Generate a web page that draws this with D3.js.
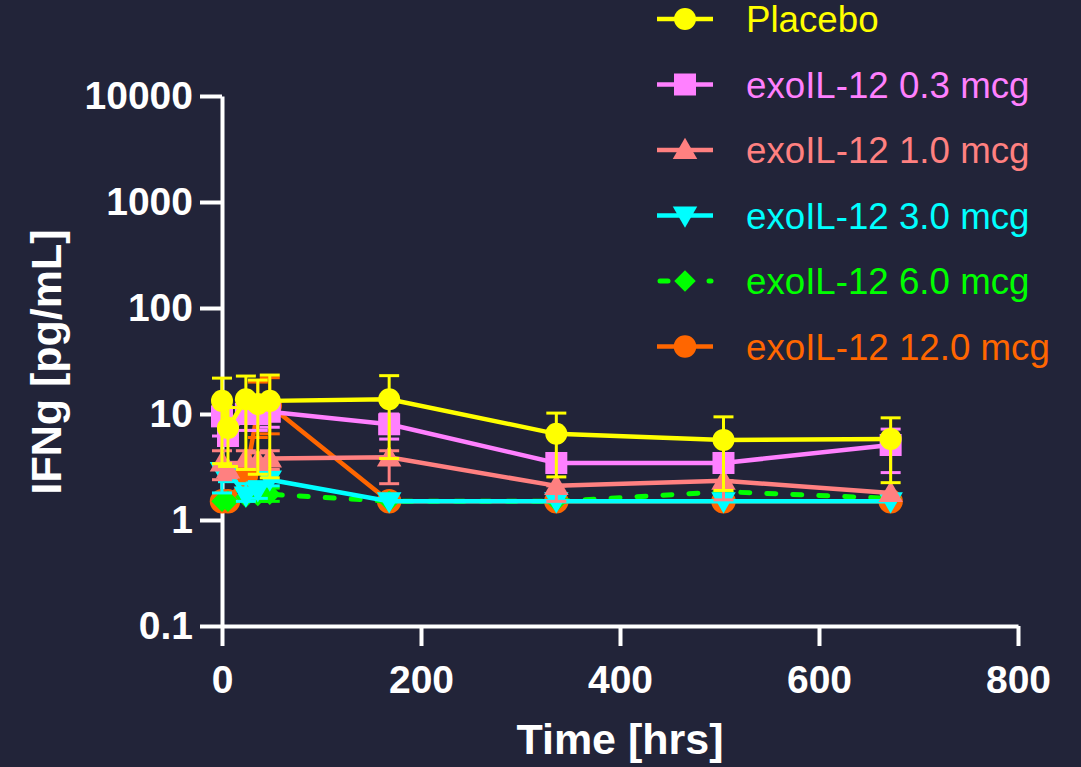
<!DOCTYPE html>
<html>
<head>
<meta charset="utf-8">
<script src="https://d3js.org/d3.v7.min.js"></script>
<style>
  body { margin: 0; background: #222439; }
  svg { display: block; font-family: "Liberation Sans", Arial, sans-serif; }
</style>
</head>
<body>
<svg id="chart" width="1081" height="767"></svg>
<script>
// sampling times (hrs)
var times = [0, 6, 24, 36, 48, 168, 336, 504, 672];

// series names + colours
var names = ["Placebo", "exoIL-12 0.3 mcg", "exoIL-12 1.0 mcg", "exoIL-12 3.0 mcg", "exoIL-12 6.0 mcg", "exoIL-12 12.0 mcg"];
var colors = ["#ffff00", "#ff80ff", "#ff8080", "#00ffff", "#00ff00", "#ff6600"];
var symbols = ["circle", "square", "triangle", "triangleDown", "diamond", "bigcircle"];

// mean IFNg values (pg/mL)
var placebo = [13.3, 7.4, 13.8, 12.4, 13.3, 13.8, 6.5, 5.7, 5.8];
var dose03  = [9.5, 6.2, 10.0, 10.0, 10.5, 8.0, 3.45, 3.45, 5.1];
var dose1   = [3.5, 3.0, 3.8, 3.6, 3.8, 3.9, 2.1, 2.35, 1.8];
var dose3   = [2.9, 2.9, 1.7, 1.9, 2.4, 1.5, 1.5, 1.5, 1.5];
var dose6   = [1.5, 1.5, 1.65, 1.7, 1.75, 1.5, 1.5, 1.85, 1.6];
var dose12  = [1.5, 1.5, 2.6, 11.0, 12.0, 1.5, 1.5, 1.5, 1.5];

// error bar ends (upper / lower)
var placeboHi = [21.8, 11.5, 22.8, 20.9, 23.3, 23.0, 10.2, 9.4, 9.2];
var placeboLo = [3.4, 3.2, 3.0, 2.7, 2.5, 3.8, 2.55, 1.9, 2.25];
var dose03Hi  = [12.0, 7.5, 13.0, 13.0, 14.0, 10.0, 3.45, 3.45, 7.2];
var dose03Lo  = [6.2, 5.2, 7.0, 7.0, 7.5, 5.8, 3.45, 3.45, 2.8];
var dose1Hi   = [4.5, 3.5, 4.5, 4.3, 4.5, 4.5, 2.1, 2.35, 1.8];
var dose1Lo   = [2.4, 2.5, 3.0, 3.0, 3.0, 2.2, 1.5, 1.55, 1.8];
var dose3Hi   = [3.3, 3.3, 2.2, 2.3, 2.9, 1.5, 1.5, 1.5, 1.5];
var dose3Lo   = [1.8, 2.3, 1.5, 1.6, 2.1, 1.5, 1.5, 1.5, 1.5];
var dose6Hi   = [1.5, 1.5, 1.9, 2.0, 2.0, 1.5, 1.5, 1.85, 1.6];
var dose6Lo   = [1.5, 1.5, 1.5, 1.5, 1.5, 1.5, 1.5, 1.85, 1.6];
var dose12Hi  = [1.5, 1.5, 3.0, 20.0, 22.0, 1.5, 1.5, 1.5, 1.5];
var dose12Lo  = [1.5, 1.5, 2.2, 6.0, 6.5, 1.5, 1.5, 1.5, 1.5];

var xTicks = [0, 200, 400, 600, 800];
var yTicks = [0.1, 1, 10, 100, 1000, 10000];

var means = [placebo, dose03, dose1, dose3, dose6, dose12];
var his = [placeboHi, dose03Hi, dose1Hi, dose3Hi, dose6Hi, dose12Hi];
var los = [placeboLo, dose03Lo, dose1Lo, dose3Lo, dose6Lo, dose12Lo];

var series = names.map(function(n, i) {
  return {
    name: n, color: colors[i], symbol: symbols[i], dashed: i == 4,
    pts: times.map(function(t, j) { return {t: t, v: means[i][j], hi: his[i][j], lo: los[i][j]}; })
  };
});

var svg = d3.select("#chart");
var x = d3.scaleLinear().domain([0, 800]).range([222, 1018]);
var y = d3.scaleLog().domain([0.1, 10000]).range([626, 96]);

function symPath(kind, legend) {
  if (kind == "circle") return d3.symbol().type(d3.symbolCircle).size(380)();
  if (kind == "bigcircle") return d3.symbol().type(d3.symbolCircle).size(legend ? 400 : 470)();
  if (kind == "square") return d3.symbol().type(d3.symbolSquare).size(484)();
  if (kind == "triangle" || kind == "triangleDown") return d3.symbol().type(d3.symbolTriangle).size(260)();
  return d3.symbol().type(d3.symbolSquare).size(230)();
}
function symTransform(kind, px, py) {
  var r = kind == "triangleDown" ? " rotate(180)" : (kind == "diamond" ? " rotate(45)" : "");
  var dy = kind == "triangle" ? 2 : (kind == "triangleDown" ? -2 : 0);
  return "translate(" + px + "," + (py + dy) + ")" + r;
}

// axes
var yAxis = svg.append("g")
  .attr("transform", "translate(222,0)")
  .call(d3.axisLeft(y).tickValues(yTicks).tickFormat(function(d) { return d < 1 ? "0.1" : d3.format("d")(d); })
    .tickSize(22).tickSizeOuter(0).tickPadding(7));
var xAxis = svg.append("g")
  .attr("transform", "translate(0,626)")
  .call(d3.axisBottom(x).tickValues(xTicks).tickSize(20).tickSizeOuter(0).tickPadding(19));
[xAxis, yAxis].forEach(function(a) {
  a.selectAll("path, line").attr("stroke", "#ffffff").attr("stroke-width", 4);
  a.selectAll("text").attr("fill", "#ffffff").style("font-size", "39px").style("font-weight", "bold")
    .style("font-family", "'Liberation Sans', Arial, sans-serif");
});

// axis titles
svg.append("text")
  .attr("x", 620).attr("y", 754)
  .attr("text-anchor", "middle").attr("fill", "#fff")
  .style("font-size", "43px").style("font-weight", "bold")
  .text("Time [hrs]");
svg.append("text")
  .attr("transform", "translate(61,362) rotate(-90)")
  .attr("text-anchor", "middle").attr("fill", "#fff")
  .style("font-size", "43px").style("font-weight", "bold")
  .text("IFNg [pg/mL]");

// data, last series drawn first so Placebo sits on top
var line = d3.line().x(function(d) { return x(d.t); }).y(function(d) { return y(d.v); });
series.slice().reverse().forEach(function(s) {
  var g = svg.append("g");
  g.append("path").datum(s.pts)
    .attr("d", line).attr("fill", "none")
    .attr("stroke", s.color).attr("stroke-width", s.dashed ? 5 : 4.5)
    .attr("stroke-dasharray", s.dashed ? "9,17" : null)
    .attr("stroke-linecap", s.dashed ? "round" : "butt");
  var eb = g.selectAll(".eb").data(s.pts.filter(function(d) { return d.hi > d.v || d.lo < d.v; }))
    .enter().append("g").attr("stroke", s.color).attr("stroke-width", 3);
  eb.append("line").attr("x1", function(d) { return x(d.t); }).attr("x2", function(d) { return x(d.t); })
    .attr("y1", function(d) { return y(d.hi); }).attr("y2", function(d) { return y(d.lo); });
  eb.append("line").attr("x1", function(d) { return x(d.t) - 10; }).attr("x2", function(d) { return x(d.t) + 10; })
    .attr("y1", function(d) { return y(d.hi); }).attr("y2", function(d) { return y(d.hi); });
  eb.append("line").attr("x1", function(d) { return x(d.t) - 10; }).attr("x2", function(d) { return x(d.t) + 10; })
    .attr("y1", function(d) { return y(d.lo); }).attr("y2", function(d) { return y(d.lo); });
  g.selectAll(".m").data(s.pts).enter().append("path")
    .attr("d", symPath(s.symbol))
    .attr("transform", function(d) { return symTransform(s.symbol, x(d.t), y(d.v)); })
    .attr("fill", s.color);
});

// legend
var leg = svg.append("g");
series.forEach(function(s, i) {
  var ly = 19 + i * 65.5;
  if (s.dashed) {
    leg.append("line").attr("x1", 660).attr("x2", 668).attr("y1", ly).attr("y2", ly)
      .attr("stroke", s.color).attr("stroke-width", 5).attr("stroke-linecap", "round");
    leg.append("line").attr("x1", 709).attr("x2", 711).attr("y1", ly).attr("y2", ly)
      .attr("stroke", s.color).attr("stroke-width", 5).attr("stroke-linecap", "round");
  } else {
    leg.append("line").attr("x1", 657).attr("x2", 713).attr("y1", ly).attr("y2", ly)
      .attr("stroke", s.color).attr("stroke-width", 4.5);
  }
  leg.append("path").attr("d", symPath(s.symbol, true)).attr("transform", symTransform(s.symbol, 685, ly)).attr("fill", s.color);
  leg.append("text").attr("x", 746).attr("y", ly + 13)
    .attr("fill", s.color).style("font-size", "36.7px")
    .text(s.name);
});
</script>
</body>
</html>
